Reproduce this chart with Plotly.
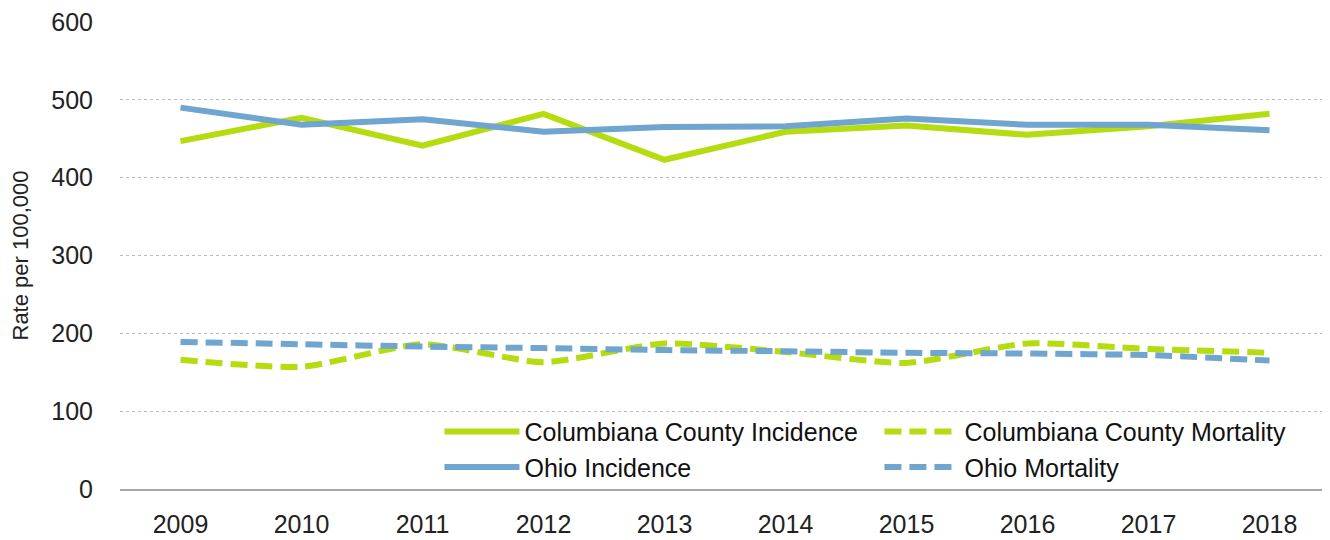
import plotly.graph_objects as go

years = ["2009", "2010", "2011", "2012", "2013", "2014", "2015", "2016", "2017", "2018"]
col_incidence = [447, 477, 441, 482, 423, 459, 467, 455, 466, 482]
col_mortality = [166, 157, 186, 163, 187, 176, 162, 187, 180, 175]
ohio_incidence = [490, 468, 475, 459, 465, 466, 476, 468, 468, 461]
ohio_mortality = [189, 186, 183, 181, 178.5, 177, 175, 174, 172, 165]

GREEN = "#B4DC0E"
BLUE = "#6FA5CF"
FONT = "Liberation Sans, Arial, sans-serif"

fig = go.Figure()
fig.add_trace(go.Scatter(x=years, y=col_incidence, name="Columbiana County Incidence",
                         mode="lines", line=dict(color=GREEN, width=6)))
fig.add_trace(go.Scatter(x=years, y=col_mortality, name="Columbiana County Mortality",
                         mode="lines", line=dict(color=GREEN, width=6, dash="17px,8px", shape="spline", smoothing=0.6)))
fig.add_trace(go.Scatter(x=years, y=ohio_incidence, name="Ohio Incidence",
                         mode="lines", line=dict(color=BLUE, width=6)))
fig.add_trace(go.Scatter(x=years, y=ohio_mortality, name="Ohio Mortality",
                         mode="lines", line=dict(color=BLUE, width=6, dash="17px,8px", shape="spline", smoothing=0.6)))

# page body has an 8px margin; compensate so plot area spans x 120-1330, y 22-489
fig.update_layout(
    width=1322, height=532,
    margin=dict(l=112, r=0, t=14, b=51, autoexpand=False),
    paper_bgcolor="white", plot_bgcolor="white",
    font=dict(family=FONT, size=24, color="#222222"),
    showlegend=True,
    legend=dict(
        orientation="h",
        x=0.264, xanchor="left",
        y=0.172, yanchor="top",
        font=dict(family=FONT, size=25, color="#111111"),
        entrywidth=350, entrywidthmode="pixels",
        itemwidth=75,
        bgcolor="rgba(255,255,255,0)",
        traceorder="normal",
    ),
    xaxis=dict(
        type="category", range=[-0.5, 9.5],
        showgrid=False, showline=True, linecolor="#A6A6A6", linewidth=2,
        ticks="", ticklabelstandoff=12,
        tickfont=dict(size=25, color="#222222"),
        zeroline=False,
    ),
    yaxis=dict(
        range=[0, 600], tickvals=[0, 100, 200, 300, 400, 500, 600],
        showgrid=True, gridcolor="#BBBBBB", griddash="dot", gridwidth=1,
        zeroline=False, showline=False, ticks="",
        ticklabelstandoff=26, ticklabeloverflow="allow",
        tickfont=dict(size=25, color="#222222"),
        title=dict(text="Rate per 100,000", font=dict(size=22, color="#222222"), standoff=18),
    ),
)

fig.write_html("out.html")
